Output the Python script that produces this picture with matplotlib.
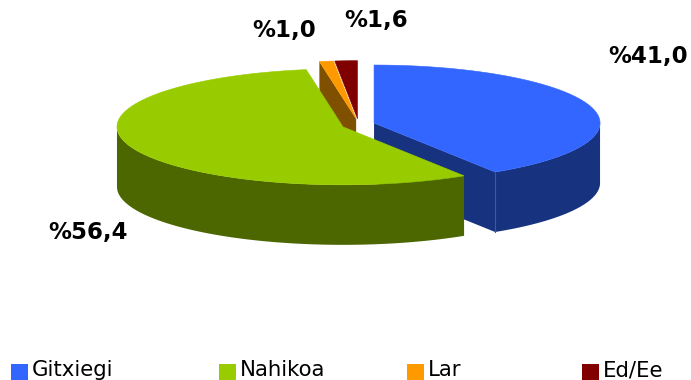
import matplotlib
matplotlib.use("Agg")
import matplotlib.pyplot as plt
from matplotlib.patches import Polygon, Rectangle
import numpy as np

labels = ["Gitxiegi", "Nahikoa", "Lar", "Ed/Ee"]
values = [41.0, 56.4, 1.0, 1.6]
value_text = ["%41,0", "%56,4", "%1,0", "%1,6"]
colors = ["#3366FF", "#99CC00", "#FF9900", "#800000"]
dark_colors = ["#17327F", "#4C6600", "#7F5000", "#400000"]
label_pos = [(608, 56), (48, 233), (252, 31), (344, 21)]
legend_x = [11, 219, 407, 582]

# pie geometry in pixels
cx, cy = 358.3, 124.7
rx, ry = 226, 58
depth = 60
explode_x, explode_y = 16.4, 6.0


def rim(center, a0, a1):
    ang = np.radians(np.linspace(a0, a1, 120))
    return np.column_stack([center[0] + rx * np.sin(ang), center[1] - ry * np.cos(ang)])


def wall(ax, center, a0, a1, color):
    # outer wall, only the front half (90-270 deg) can be seen
    a0, a1 = max(a0, 90), min(a1, 270)
    if a1 <= a0:
        return
    top = rim(center, a0, a1)
    bottom = top[::-1] + [0, depth]
    ax.add_patch(Polygon(np.vstack([top, bottom]), fc=color, ec="none"))


def cut_face(ax, center, angle, color):
    p = rim(center, angle, angle)[0]
    pts = [center, p, (p[0], p[1] + depth), (center[0], center[1] + depth)]
    ax.add_patch(Polygon(pts, fc=color, ec="none"))


fig = plt.figure(figsize=(6.91, 3.80), dpi=100)
ax = fig.add_axes([0, 0, 1, 1])
ax.set_xlim(0, 691)
ax.set_ylim(380, 0)
ax.axis("off")

total = sum(values)
edges = np.cumsum([0] + values) / total * 360
centers = []
for i in range(len(values)):
    mid = np.radians((edges[i] + edges[i + 1]) / 2)
    centers.append((cx + explode_x * np.sin(mid), cy - explode_y * np.cos(mid)))

# blue slice, then the small ones, green last because it sits in front
for i in [0, 2, 3, 1]:
    a0, a1 = edges[i], edges[i + 1]
    if i == 0:
        wall(ax, centers[i], a0, a1, dark_colors[i])
        cut_face(ax, centers[i], a1, dark_colors[i])
        p = rim(centers[i], a1, a1)[0]
        ax.plot([p[0], p[0]], [p[1], p[1] + depth], color="#3F58A0", lw=0.8)
    if i == 2:
        cut_face(ax, centers[i], a0, dark_colors[i])
    if i == 1:
        wall(ax, centers[i], a0, a1, dark_colors[i])
    top = np.vstack([[centers[i]], rim(centers[i], a0, a1)])
    ax.add_patch(Polygon(top, fc=colors[i], ec=colors[i], lw=0.4))

for txt, (x, y) in zip(value_text, label_pos):
    ax.text(x, y, txt, fontsize=16.5, fontweight="bold", color="black",
            ha="left", va="center", family="DejaVu Sans")

for name, color, x in zip(labels, colors, legend_x):
    ax.add_patch(Rectangle((x, 364), 17, 16, fc=color, ec="none"))
    ax.text(x + 21, 370, name, fontsize=15.3, color="black",
            ha="left", va="center", family="DejaVu Sans")

fig.savefig("out.png", dpi=100)
